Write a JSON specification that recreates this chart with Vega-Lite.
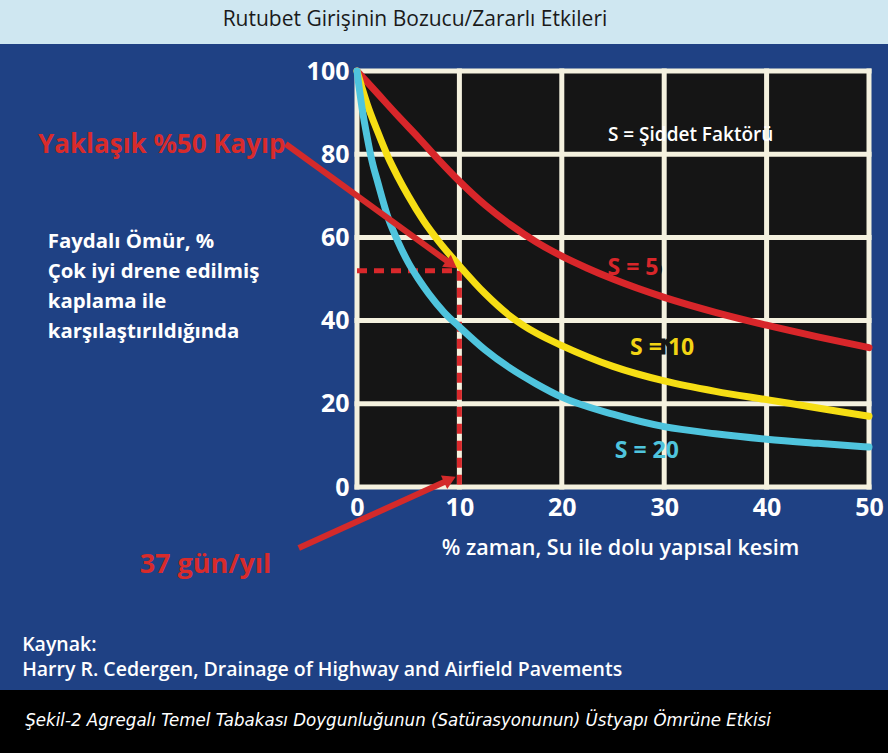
{
  "$schema": "https://vega.github.io/schema/vega-lite/v6.json",
  "autosize": {"type": "none"},
  "width": 512,
  "height": 416,
  "padding": {"left": 357, "top": 71, "right": 19, "bottom": 266},
  "background": "#1f4184",
  "data": {"values": [{}]},
  "config": {
    "font": "Open Sans",
    "view": {"stroke": null},
    "axis": {"grid": false, "domain": false, "ticks": false, "zindex": 1, "labelFont": "Open Sans", "labelFontWeight": "bold", "labelColor": "#ffffff", "labelFontSize": 25}
  },
  "datasets": {
    "curves": [
      {"x": 0, "y": 100, "S": "S = 5"}, {"x": 2, "y": 94.6, "S": "S = 5"}, {"x": 4, "y": 89.2, "S": "S = 5"}, {"x": 6, "y": 84, "S": "S = 5"}, {"x": 8, "y": 78.6, "S": "S = 5"}, {"x": 10, "y": 73.5, "S": "S = 5"}, {"x": 12.5, "y": 67.8, "S": "S = 5"}, {"x": 15, "y": 63, "S": "S = 5"}, {"x": 17.5, "y": 58.9, "S": "S = 5"}, {"x": 20, "y": 55.5, "S": "S = 5"}, {"x": 22.5, "y": 52.6, "S": "S = 5"}, {"x": 25, "y": 50, "S": "S = 5"}, {"x": 30, "y": 45.6, "S": "S = 5"}, {"x": 35, "y": 42, "S": "S = 5"}, {"x": 40, "y": 38.9, "S": "S = 5"}, {"x": 45, "y": 36.1, "S": "S = 5"}, {"x": 50, "y": 33.5, "S": "S = 5"},
      {"x": 0, "y": 100, "S": "S = 10"}, {"x": 1, "y": 92, "S": "S = 10"}, {"x": 2, "y": 85.5, "S": "S = 10"}, {"x": 3, "y": 79.5, "S": "S = 10"}, {"x": 4, "y": 74.5, "S": "S = 10"}, {"x": 5, "y": 70, "S": "S = 10"}, {"x": 6.5, "y": 64, "S": "S = 10"}, {"x": 8, "y": 59, "S": "S = 10"}, {"x": 10, "y": 53.2, "S": "S = 10"}, {"x": 12.5, "y": 46.5, "S": "S = 10"}, {"x": 15, "y": 41, "S": "S = 10"}, {"x": 17.5, "y": 37, "S": "S = 10"}, {"x": 20, "y": 34, "S": "S = 10"}, {"x": 25, "y": 29, "S": "S = 10"}, {"x": 30, "y": 25.5, "S": "S = 10"}, {"x": 35, "y": 23, "S": "S = 10"}, {"x": 40, "y": 21, "S": "S = 10"}, {"x": 45, "y": 19, "S": "S = 10"}, {"x": 50, "y": 17, "S": "S = 10"},
      {"x": 0, "y": 100, "S": "S = 20"}, {"x": 0.5, "y": 91, "S": "S = 20"}, {"x": 1, "y": 84, "S": "S = 20"}, {"x": 1.5, "y": 78, "S": "S = 20"}, {"x": 2, "y": 73.5, "S": "S = 20"}, {"x": 3, "y": 65, "S": "S = 20"}, {"x": 4, "y": 59, "S": "S = 20"}, {"x": 5, "y": 54, "S": "S = 20"}, {"x": 6, "y": 50, "S": "S = 20"}, {"x": 7, "y": 46.5, "S": "S = 20"}, {"x": 8.5, "y": 42, "S": "S = 20"}, {"x": 10, "y": 38.5, "S": "S = 20"}, {"x": 12.5, "y": 33, "S": "S = 20"}, {"x": 15, "y": 28.5, "S": "S = 20"}, {"x": 17.5, "y": 24.8, "S": "S = 20"}, {"x": 20, "y": 21.6, "S": "S = 20"}, {"x": 25, "y": 17.5, "S": "S = 20"}, {"x": 30, "y": 14.5, "S": "S = 20"}, {"x": 35, "y": 12.8, "S": "S = 20"}, {"x": 40, "y": 11.5, "S": "S = 20"}, {"x": 45, "y": 10.5, "S": "S = 20"}, {"x": 50, "y": 9.6, "S": "S = 20"}
    ],
    "xgrid": [{"g": 0}, {"g": 10}, {"g": 20}, {"g": 30}, {"g": 40}, {"g": 50}],
    "ygrid": [{"g": 0}, {"g": 20}, {"g": 40}, {"g": 60}, {"g": 80}, {"g": 100}]
  },
  "layer": [
    {
      "mark": {"type": "rect", "fill": "#cfe7f1"},
      "encoding": {"x": {"datum": -40}, "x2": {"datum": 60}, "y": {"datum": 106.5}, "y2": {"datum": 125}}
    },
    {
      "mark": {"type": "rect", "fill": "#000000"},
      "encoding": {"x": {"datum": -40}, "x2": {"datum": 60}, "y": {"datum": -48.8}, "y2": {"datum": -70}}
    },
    {
      "mark": {"type": "rect", "fill": "#151515"},
      "encoding": {"x": {"datum": 0}, "x2": {"datum": 50}, "y": {"datum": 0}, "y2": {"datum": 100}}
    },
    {
      "data": {"name": "xgrid"},
      "mark": {"type": "rule", "color": "#f4f1de", "strokeWidth": 5, "strokeCap": "square"},
      "encoding": {"x": {"field": "g", "type": "quantitative"}, "y": {"datum": 0}, "y2": {"datum": 100}}
    },
    {
      "data": {"name": "ygrid"},
      "mark": {"type": "rule", "color": "#f4f1de", "strokeWidth": 5, "strokeCap": "square"},
      "encoding": {"y": {"field": "g", "type": "quantitative"}, "x": {"datum": 0}, "x2": {"datum": 50}}
    },
    {
      "mark": {"type": "text", "fontSize": 23, "fontWeight": "bold", "fill": "#151515", "stroke": "#151515", "strokeWidth": 9, "align": "center", "baseline": "middle"},
      "encoding": {"x": {"datum": 26.95}, "y": {"datum": 52.6}, "text": {"value": "S = 5"}}
    },
    {
      "mark": {"type": "text", "fontSize": 23, "fontWeight": "bold", "fill": "#151515", "stroke": "#151515", "strokeWidth": 9, "align": "center", "baseline": "middle"},
      "encoding": {"x": {"datum": 29.8}, "y": {"datum": 33.4}, "text": {"value": "S = 10"}}
    },
    {
      "mark": {"type": "rule", "color": "#d8282b", "strokeWidth": 5, "strokeDash": [10, 7]},
      "encoding": {"x": {"datum": 0}, "x2": {"datum": 10}, "y": {"datum": 52}}
    },
    {
      "mark": {"type": "rule", "color": "#d8282b", "strokeWidth": 5, "strokeDash": [10, 7]},
      "encoding": {"x": {"datum": 10}, "y": {"datum": 52}, "y2": {"datum": 0}}
    },
    {
      "data": {"name": "curves"},
      "mark": {"type": "line", "strokeWidth": 7, "interpolate": "monotone", "strokeCap": "round"},
      "encoding": {
        "x": {"field": "x", "type": "quantitative", "scale": {"domain": [0, 50], "nice": false, "zero": false}, "axis": {"zindex": 1, "values": [0, 10, 20, 30, 40, 50], "labelFlush": false, "labelPadding": 8, "title": "% zaman, Su ile dolu yapısal kesim", "titleColor": "#ffffff", "titleFont": "Open Sans", "titleFontSize": 21.5, "titleFontWeight": 600, "titlePadding": 17, "titleX": 263}},
        "y": {"field": "y", "type": "quantitative", "scale": {"domain": [0, 100], "nice": false, "zero": false}, "axis": {"zindex": 1, "values": [0, 20, 40, 60, 80, 100], "labelPadding": 8, "title": null}},
        "color": {"field": "S", "type": "nominal", "scale": {"domain": ["S = 5", "S = 10", "S = 20"], "range": ["#d8262a", "#f6de14", "#4fc4dd"]}, "legend": null},
        "detail": {"field": "S"}
      }
    },
    {
      "mark": {"type": "rule", "color": "#d42a2a", "strokeWidth": 6},
      "encoding": {"x": {"datum": -6.96}, "y": {"datum": 82.45}, "x2": {"datum": 9.24}, "y2": {"datum": 53.5}}
    },
    {
      "mark": {"type": "point", "shape": "triangle-right", "filled": true, "color": "#d42a2a", "size": 220, "angle": 36, "opacity": 1},
      "encoding": {"x": {"datum": 9.24}, "y": {"datum": 53.5}}
    },
    {
      "mark": {"type": "rule", "color": "#d42a2a", "strokeWidth": 6},
      "encoding": {"x": {"datum": -5.69}, "y": {"datum": -14.66}, "x2": {"datum": 9.07}, "y2": {"datum": 1.8}}
    },
    {
      "mark": {"type": "point", "shape": "triangle-right", "filled": true, "color": "#d42a2a", "size": 220, "angle": 335, "opacity": 1},
      "encoding": {"x": {"datum": 9.07}, "y": {"datum": 1.8}}
    },
    {
      "mark": {"type": "text", "fontSize": 21, "color": "#1a1a1a", "align": "center", "baseline": "middle"},
      "encoding": {"x": {"datum": 5.66}, "y": {"datum": 112.3}, "text": {"value": "Rutubet Girişinin Bozucu/Zararlı Etkileri"}}
    },
    {
      "mark": {"type": "text", "fontSize": 26, "fontWeight": "bold", "color": "#d82b2b", "align": "left", "baseline": "middle"},
      "encoding": {"x": {"datum": -31.15}, "y": {"datum": 82.2}, "text": {"value": "Yaklaşık %50 Kayıp"}}
    },
    {
      "mark": {"type": "text", "fontSize": 20.4, "fontWeight": "bold", "color": "#ffffff", "align": "left", "baseline": "middle", "lineBreak": "\n", "lineHeight": 30},
      "encoding": {"x": {"datum": -30.2}, "y": {"datum": 58.9}, "text": {"value": "Faydalı Ömür, %\nÇok iyi drene edilmiş\nkaplama ile\nkarşılaştırıldığında"}}
    },
    {
      "mark": {"type": "text", "fontSize": 19, "fontWeight": 600, "color": "#ffffff", "align": "left", "baseline": "middle"},
      "encoding": {"x": {"datum": 24.5}, "y": {"datum": 84.6}, "text": {"value": "S = Şiddet Faktörü"}}
    },
    {
      "mark": {"type": "text", "fontSize": 23, "fontWeight": "bold", "color": "#d8262a", "align": "center", "baseline": "middle"},
      "encoding": {"x": {"datum": 26.95}, "y": {"datum": 52.6}, "text": {"value": "S = 5"}}
    },
    {
      "mark": {"type": "text", "fontSize": 23, "fontWeight": "bold", "color": "#f2d414", "align": "center", "baseline": "middle"},
      "encoding": {"x": {"datum": 29.8}, "y": {"datum": 33.4}, "text": {"value": "S = 10"}}
    },
    {
      "mark": {"type": "text", "fontSize": 23, "fontWeight": "bold", "color": "#4fc4dd", "align": "center", "baseline": "middle"},
      "encoding": {"x": {"datum": 28.3}, "y": {"datum": 8.65}, "text": {"value": "S = 20"}}
    },
    {
      "mark": {"type": "text", "fontSize": 27, "fontWeight": "bold", "color": "#d82b2b", "align": "center", "baseline": "middle"},
      "encoding": {"x": {"datum": -14.8}, "y": {"datum": -18.75}, "text": {"value": "37 gün/yıl"}}
    },
    {
      "mark": {"type": "text", "fontSize": 19.5, "fontWeight": 600, "color": "#ffffff", "align": "left", "baseline": "middle"},
      "encoding": {"x": {"datum": -32.7}, "y": {"datum": -38.0}, "text": {"value": "Kaynak:"}}
    },
    {
      "mark": {"type": "text", "fontSize": 19.5, "fontWeight": 600, "color": "#ffffff", "align": "left", "baseline": "middle"},
      "encoding": {"x": {"datum": -32.7}, "y": {"datum": -44.0}, "text": {"value": "Harry R. Cedergen, Drainage of Highway and Airfield Pavements"}}
    },
    {
      "mark": {"type": "text", "font": "DejaVu Sans Condensed, Liberation Sans Narrow, sans-serif", "fontStyle": "italic", "fontSize": 18.5, "color": "#ffffff", "align": "left", "baseline": "middle"},
      "encoding": {"x": {"datum": -32.4}, "y": {"datum": -56.0}, "text": {"value": "Şekil-2 Agregalı Temel Tabakası Doygunluğunun (Satürasyonunun) Üstyapı Ömrüne Etkisi"}}
    }
  ]
}
